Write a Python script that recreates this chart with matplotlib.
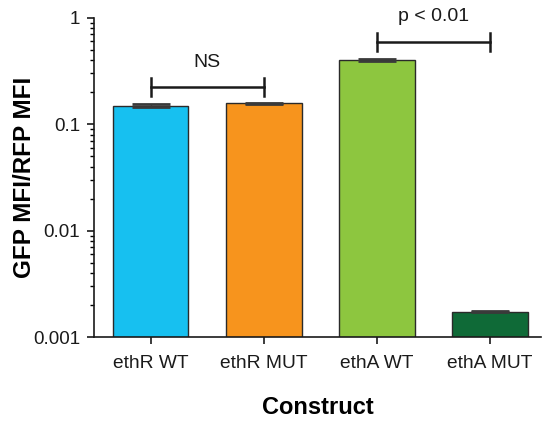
import matplotlib.pyplot as plt
import numpy as np
from matplotlib.ticker import FixedLocator, LogLocator, NullFormatter

plt.rcParams["font.family"] = ["Liberation Sans", "DejaVu Sans"]

constructs = ["ethR WT", "ethR MUT", "ethA WT", "ethA MUT"]
ratio = [0.149, 0.158, 0.40, 0.00173]
ratio_err = [0.005, 0.002, 0.008, 0.00002]
colors = ["#17c0f0", "#f7941d", "#8dc63f", "#0f6a37"]

# significance brackets: (left index, right index, bracket height, label)
brackets = [(0, 1, 0.223, "NS"), (2, 3, 0.594, "p < 0.01")]

fig = plt.figure(figsize=(5.45, 4.24), dpi=100)
ax = fig.add_axes([0.1725, 0.205, 0.82, 0.753])

x = np.arange(len(constructs))
ax.bar(x, ratio, width=0.67, color=colors, edgecolor="#2a2a2a", linewidth=1.0,
       yerr=ratio_err,
       error_kw=dict(ecolor="#3a3a3a", capsize=13.5, capthick=2.0, elinewidth=1))

ax.set_yscale("log")
ax.set_ylim(0.001, 1)
ax.set_xlim(-0.5, 3.45)
ax.yaxis.set_major_locator(FixedLocator([0.001, 0.01, 0.1, 1]))
ax.set_yticklabels(["0.001", "0.01", "0.1", "1"])
ax.yaxis.set_minor_locator(LogLocator(base=10, subs=np.arange(2, 10)))
ax.yaxis.set_minor_formatter(NullFormatter())
ax.set_xticks(x)
ax.set_xticklabels(constructs)

for side in ["top", "right"]:
    ax.spines[side].set_visible(False)
for side in ["left", "bottom"]:
    ax.spines[side].set_linewidth(1.2)
    ax.spines[side].set_color("#1a1a1a")

ax.tick_params(axis="y", which="major", length=5, width=1.2, pad=5,
               labelsize=13.5, colors="#1a1a1a")
ax.tick_params(axis="y", which="minor", length=3, width=1.0)
ax.tick_params(axis="x", length=5, width=1.2, pad=8, labelsize=13.8, colors="#1a1a1a")

ax.set_ylabel("GFP MFI/RFP MFI", fontsize=17.5, fontweight="bold")
ax.yaxis.set_label_coords(-0.13, 0.5)
ax.set_xlabel("Construct", fontsize=17, fontweight="bold")
ax.xaxis.set_label_coords(0.5, -0.185)

for i0, i1, h, label in brackets:
    cap = 1.216
    ax.plot([i0, i1], [h, h], color="#1a1a1a", lw=1.8, clip_on=False)
    for xi in (i0, i1):
        ax.plot([xi, xi], [h / cap, h * cap], color="#1a1a1a", lw=1.8, clip_on=False)
    ax.annotate(label, xy=((i0 + i1) / 2, h), xytext=(0, 18), textcoords="offset points",
                ha="center", va="center", fontsize=14, color="#1a1a1a",
                annotation_clip=False)

fig.savefig("out.png", dpi=100)
